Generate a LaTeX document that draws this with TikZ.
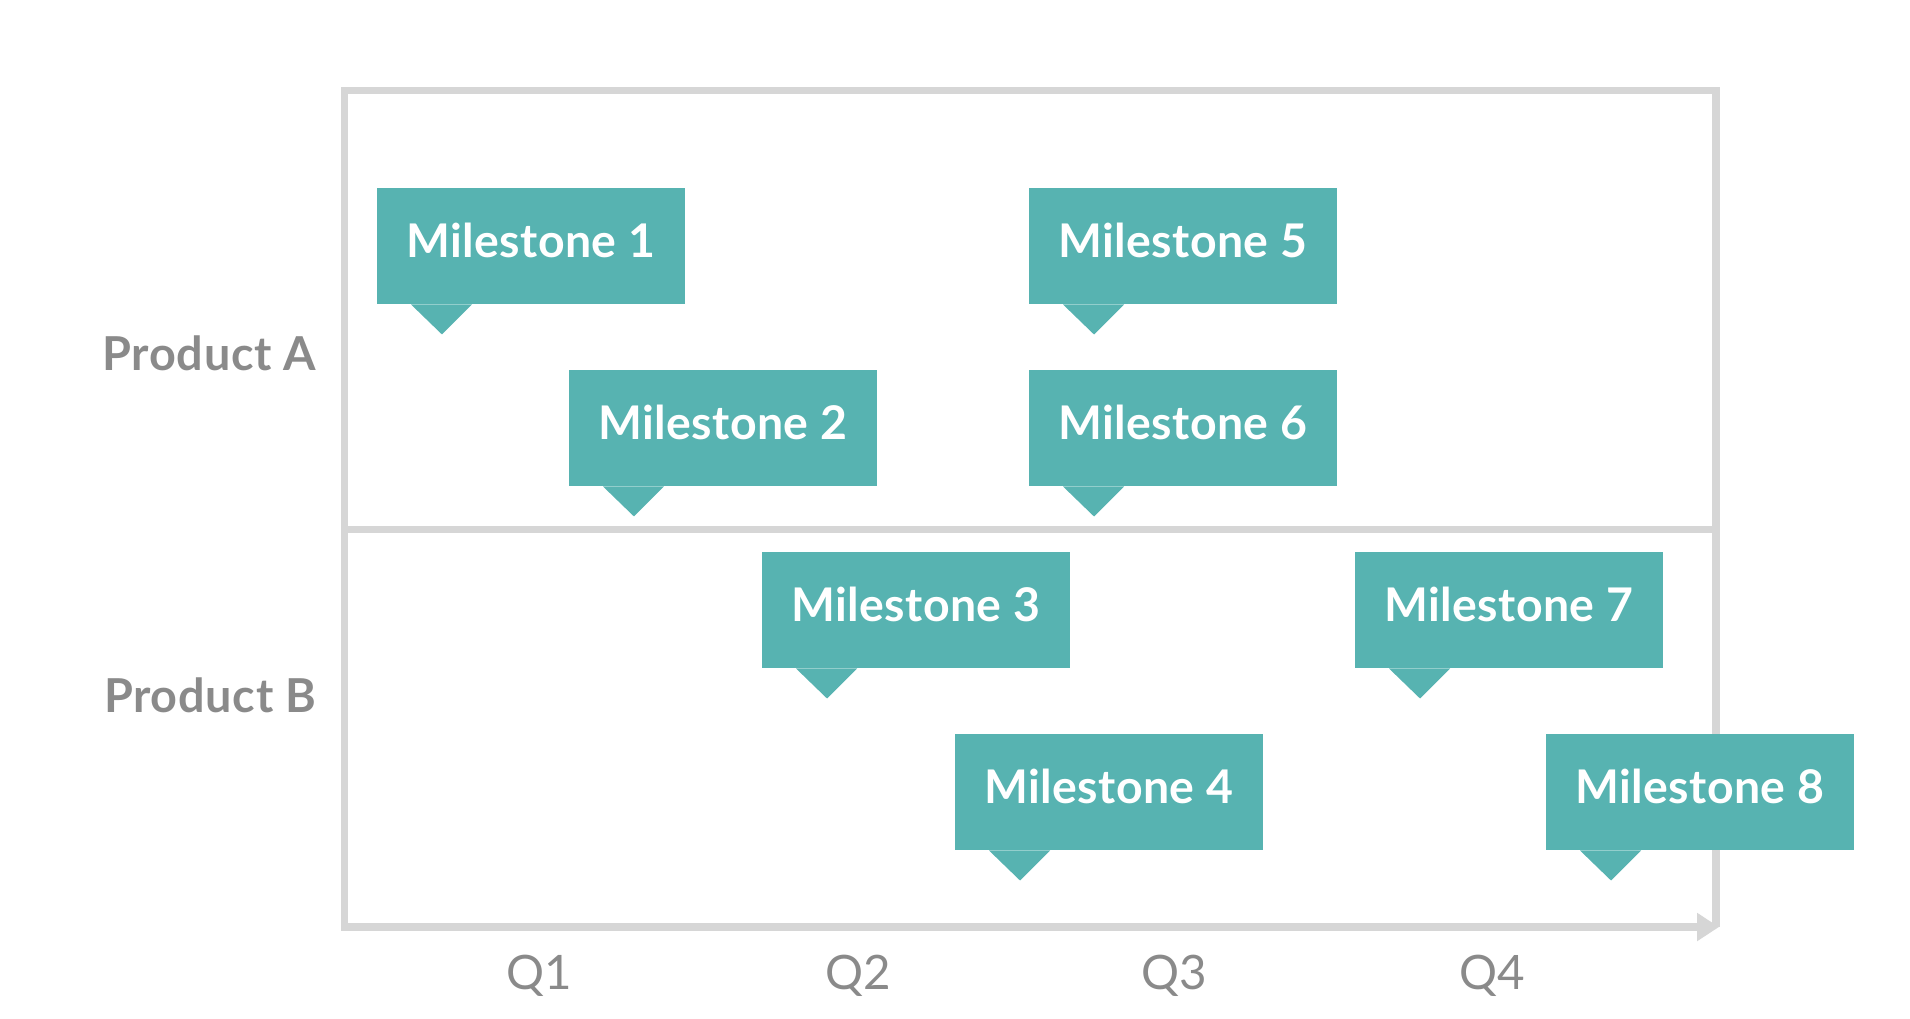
\documentclass[tikz,border=0pt]{standalone}
\usepackage{fontspec}
\setmainfont{Lato}
\usetikzlibrary{arrows.meta,calc}
\definecolor{msteal}{HTML}{57B3B1}
\definecolor{framegray}{HTML}{D6D6D6}
\definecolor{labelgray}{HTML}{8A8A8A}
\tikzset{
	milestone/.style={fill=msteal,text=white,anchor=north west,inner sep=0pt,
		minimum width=3.08cm,minimum height=1.16cm,text height=0.34cm,text depth=0.11cm,
		font=\fontsize{13.2}{15}\selectfont\bfseries\addfontfeatures{LetterSpace=0.8}},
	product/.style={text=labelgray,anchor=east,inner sep=0pt,
		font=\fontsize{13.3}{16}\selectfont\bfseries\addfontfeatures{LetterSpace=1.5}},
	quarter/.style={text=labelgray,font=\fontsize{13.5}{16}\selectfont},
	frame/.style={draw=framegray,line width=0.075cm}
}
\begin{document}
	\begin{tikzpicture}[x=0.01cm,y=-0.01cm]
		\useasboundingbox (0,0) rectangle (1910,1018);
		
		% chart frame and time axis
		\coordinate (bl) at (344.5,927);
		\coordinate (br) at (1716,927);
		\coordinate (tl) at (344.5,90.5);
		\coordinate (tr) at (1716,90.5);
		\coordinate (end) at (1719,927);
		\draw[frame,-{Triangle[length=0.22cm,width=0.27cm]}] (br) -- (tr) -- (tl) -- (bl) -- (end);
		\draw[frame] (344.5,529.5) -- (1716,529.5);
		
		\node[product] (prodA) at (317,353) {Product A};
		\node[product] (prodB) at (317,695) {Product B};
		
		\node[quarter] (q1) at (539,976) {Q1};
		\node[quarter] (q2) at (858,976) {Q2};
		\node[quarter] (q3) at (1174,976) {Q3};
		\node[quarter] (q4) at (1492,976) {Q4};
		
		% milestones
		\node[milestone] (m1) at (376,187) {Milestone 1};
		\node[milestone] (m2) at (568,369) {Milestone 2};
		\node[milestone] (m3) at (761,551) {Milestone 3};
		\node[milestone] (m4) at (954,733) {Milestone 4};
		\node[milestone] (m5) at (1028,187) {Milestone 5};
		\node[milestone] (m6) at (1028,369) {Milestone 6};
		\node[milestone] (m7) at (1354,551) {Milestone 7};
		\node[milestone] (m8) at (1545,733) {Milestone 8};
		
		\foreach \m in {m1,m2,m3,m4,m5,m6,m7,m8}
			\fill[msteal] ($(\m.south west)+(35,0)$) -- +(61,0) -- +(31,30) -- cycle;
	\end{tikzpicture}
\end{document}
